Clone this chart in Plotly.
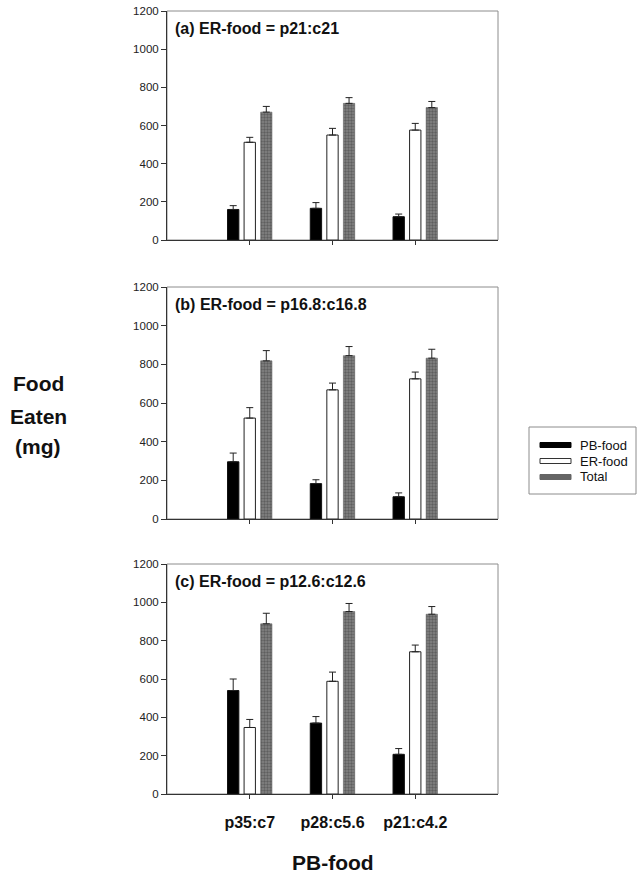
import plotly.graph_objects as go

# Categories of PB-food and the three ER-food conditions
categories = ["p35:c7", "p28:c5.6", "p21:c4.2"]
panel_titles = [
    "(a) ER-food = p21:c21",
    "(b) ER-food = p16.8:c16.8",
    "(c) ER-food = p12.6:c12.6",
]
series_names = ["PB-food", "ER-food", "Total"]

# Food eaten (mg), one list per panel, and the upper error (SE)
pb_a = [160, 166, 122]
er_a = [512, 550, 576]
tot_a = [670, 716, 694]
pb_a_err = [20, 30, 14]
er_a_err = [26, 35, 35]
tot_a_err = [30, 30, 32]

pb_b = [296, 183, 115]
er_b = [522, 668, 725]
tot_b = [818, 845, 832]
pb_b_err = [45, 20, 20]
er_b_err = [54, 35, 35]
tot_b_err = [53, 47, 46]

pb_c = [540, 370, 207]
er_c = [347, 588, 742]
tot_c = [888, 952, 938]
pb_c_err = [60, 34, 30]
er_c_err = [42, 48, 35]
tot_c_err = [55, 42, 40]

y_ticks = [0, 200, 400, 600, 800, 1000, 1200]

panels = [
    (pb_a, er_a, tot_a, pb_a_err, er_a_err, tot_a_err),
    (pb_b, er_b, tot_b, pb_b_err, er_b_err, tot_b_err),
    (pb_c, er_c, tot_c, pb_c_err, er_c_err, tot_c_err),
]

W, H = 637, 874
FONT = "Arial, Liberation Sans, sans-serif"

# pixel geometry of the three plot boxes
x_left, x_right = 167, 498
y_boxes = [(11, 240), (287, 519), (564, 794)]

fig = go.Figure()

styles = [
    dict(marker=dict(color="#000000", line=dict(color="#111111", width=1))),
    dict(marker=dict(color="#ffffff", line=dict(color="#222222", width=1))),
    dict(marker=dict(color="#858585", line=dict(color="#555555", width=0.5),
                     pattern=dict(shape=".", fgcolor="#383838", size=3,
                                  solidity=0.5, fillmode="overlay"))),
]

xpos = list(range(len(categories)))

for i, panel in enumerate(panels):
    vals = panel[:3]
    errs = panel[3:]
    ax = "" if i == 0 else str(i + 1)
    for k in range(3):
        fig.add_trace(go.Bar(
            x=xpos, y=vals[k], name=series_names[k],
            xaxis="x" + ax, yaxis="y" + ax,
            error_y=dict(type="data", array=errs[k],
                         arrayminus=[0] * len(errs[k]), symmetric=False,
                         color="#222222", thickness=1, width=3.5),
            showlegend=False, **styles[k]))

    top, bot = y_boxes[i]
    dom_y = [1 - bot / H, 1 - top / H]
    dom_x = [x_left / W, x_right / W]
    last = i == len(panels) - 1
    fig.layout["xaxis" + ax] = dict(
        domain=dom_x, anchor="y" + ax, range=[-1, 3],
        tickvals=xpos, ticktext=categories, showticklabels=last,
        ticks="outside", ticklen=4, tickcolor="#333333",
        showline=True, linecolor="#333333", linewidth=1,
        showgrid=False, zeroline=False, automargin=False,
        ticklabelstandoff=10,
        tickfont=dict(family=FONT, size=16, color="#111111", weight="bold"),
    )
    fig.layout["yaxis" + ax] = dict(
        domain=dom_y, anchor="x" + ax, range=[0, 1200],
        tickvals=y_ticks, ticks="outside", ticklen=5, tickcolor="#333333",
        showline=True, linecolor="#333333", linewidth=1,
        showgrid=False, zeroline=False, automargin=False,
        tickfont=dict(family=FONT, size=11.5, color="#222222"),
    )
    # thin frame around each plot box
    fig.add_shape(type="rect", xref="x" + ax + " domain", yref="y" + ax + " domain",
                  x0=0, x1=1, y0=0, y1=1,
                  line=dict(color="#8c8c8c", width=1), layer="below")
    fig.add_annotation(
        text=panel_titles[i], xref="x" + ax + " domain", yref="y" + ax + " domain",
        x=0.017, y=1 - 17 / (bot - top), xanchor="left", yanchor="middle",
        showarrow=False,
        font=dict(family=FONT, size=16, color="#111111", weight="bold"))

# y-axis title
for txt, yy in [("Food", 384), ("Eaten", 416), ("(mg)", 447)]:
    fig.add_annotation(text=txt, xref="paper", yref="paper", x=38 / W, y=1 - yy / H,
                       xanchor="center", yanchor="middle", showarrow=False,
                       font=dict(family=FONT, size=21, color="#111111", weight="bold"))

# x-axis title
fig.add_annotation(text="PB-food", xref="paper", yref="paper",
                   x=(x_left + x_right) / 2 / W, y=1 - 862 / H,
                   xanchor="center", yanchor="middle", showarrow=False,
                   font=dict(family=FONT, size=21, color="#111111", weight="bold"))

# legend box with swatches
lg_x0, lg_x1, lg_y0, lg_y1 = 529, 636, 427, 494
fig.add_shape(type="rect", xref="paper", yref="paper",
              x0=lg_x0 / W, x1=lg_x1 / W, y0=1 - lg_y1 / H, y1=1 - lg_y0 / H,
              line=dict(color="#8c8c8c", width=1), fillcolor="white")
swatch_fill = ["#000000", "#ffffff", "#656565"]
swatch_line = ["#000000", "#333333", "#656565"]
for k, (name, yy) in enumerate(zip(series_names, [445, 461, 477])):
    fig.add_shape(type="rect", xref="paper", yref="paper",
                  x0=540 / W, x1=571 / W, y0=1 - (yy + 2.5) / H, y1=1 - (yy - 2.5) / H,
                  line=dict(color=swatch_line[k], width=1), fillcolor=swatch_fill[k])
    fig.add_annotation(text=name, xref="paper", yref="paper", x=578 / W, y=1 - yy / H,
                       xanchor="left", yanchor="middle", showarrow=False,
                       font=dict(family=FONT, size=13, color="#111111"))

fig.update_layout(
    width=W, height=H, margin=dict(l=0, r=0, t=0, b=0),
    paper_bgcolor="white", plot_bgcolor="white",
    barmode="group", bargap=0.4, bargroupgap=0.315,
    showlegend=False,
)

fig.write_html("out.html")
